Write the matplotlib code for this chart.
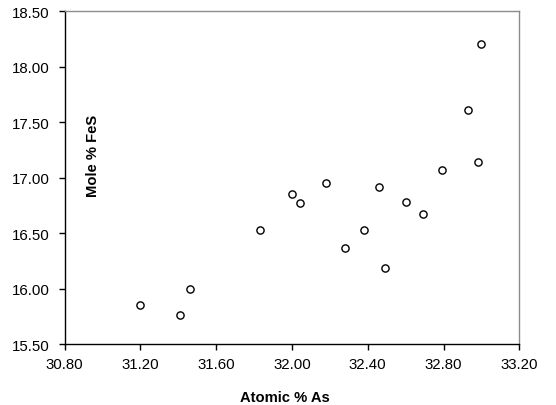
import matplotlib
matplotlib.use("Agg")
import matplotlib.pyplot as plt

plt.rcParams['font.family'] = ['Liberation Sans', 'DejaVu Sans']

atomic_as = [31.20, 31.41, 31.46, 31.83, 32.00, 32.04, 32.18, 32.28, 32.38,
             32.46, 32.49, 32.60, 32.69, 32.79, 32.93, 32.98, 33.00]
mole_fes = [15.85, 15.76, 16.00, 16.53, 16.85, 16.77, 16.95, 16.37, 16.53,
            16.92, 16.19, 16.78, 16.67, 17.07, 17.61, 17.14, 18.20]

x_ticks = [30.80, 31.20, 31.60, 32.00, 32.40, 32.80, 33.20]
y_ticks = [15.50, 16.00, 16.50, 17.00, 17.50, 18.00, 18.50]

fig = plt.figure(figsize=(5.56, 4.06), dpi=100)
ax = fig.add_axes([0.1164, 0.150, 0.8176, 0.820])

ax.plot(atomic_as, mole_fes, linestyle='none', marker='o', markersize=5.2,
        markerfacecolor='white', markeredgecolor='black', markeredgewidth=1.0)

ax.set_xlim(x_ticks[0], x_ticks[-1])
ax.set_ylim(y_ticks[0], y_ticks[-1])
ax.set_xticks(x_ticks)
ax.set_yticks(y_ticks)
ax.set_xticklabels([f"{v:.2f}" for v in x_ticks])
ax.set_yticklabels([f"{v:.2f}" for v in y_ticks])
ax.tick_params(direction='out', length=4, width=1, labelsize=10.8, color='black')
ax.tick_params(axis='x', pad=5)
ax.tick_params(axis='y', pad=7)

for side in ('left', 'bottom'):
    ax.spines[side].set_color('black')
    ax.spines[side].set_linewidth(1.0)
for side in ('top', 'right'):
    ax.spines[side].set_color('#8c8c8c')
    ax.spines[side].set_linewidth(1.0)

ax.text(0.062, 0.568, 'Mole % FeS', rotation=90, ha='center', va='center',
        fontsize=10.6, fontweight='bold', transform=ax.transAxes)
fig.text(284.5 / 556, 1 - 398 / 406, 'Atomic % As', ha='center', va='center',
         fontsize=10.6, fontweight='bold')

fig.savefig('out.png', dpi=100)
